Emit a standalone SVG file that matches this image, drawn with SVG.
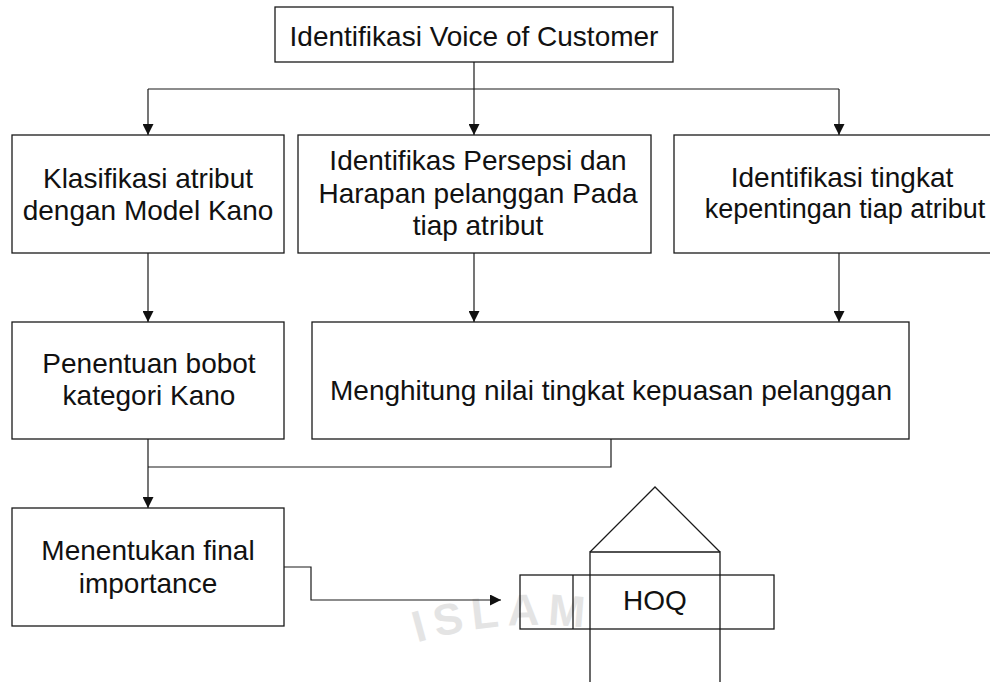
<svg xmlns="http://www.w3.org/2000/svg" width="990" height="682" viewBox="0 0 990 682">
<style>
.box{fill:none;stroke:#1a1a1a;stroke-width:1.3}
.ln{fill:none;stroke:#1a1a1a;stroke-width:1.2}
.t{font-family:"Liberation Sans",Arial,sans-serif;font-size:28px;fill:#111;text-anchor:middle}
.wm{font-family:"Liberation Sans",Arial,sans-serif;font-size:44px;font-weight:bold;fill:#e4e4e4}
</style>
<defs>
<marker id="arr" markerUnits="userSpaceOnUse" markerWidth="11" markerHeight="11" refX="11" refY="5.5" orient="auto">
<path d="M0,0 L11,5.5 L0,11 z" fill="#111"/>
</marker>
<path id="wmArc" d="M395,650 A420,420 0 0 1 615,632"/>
</defs>
<rect width="990" height="682" fill="#fff"/>
<g id="watermark">
<text class="wm" letter-spacing="8"><textPath href="#wmArc" startOffset="50%" text-anchor="middle">ISLAM</textPath></text>
</g>
<g id="connectors">
<path class="ln" d="M474,62 V89"/>
<path class="ln" d="M148,89 H839"/>
<path class="ln" d="M148,89 V135" marker-end="url(#arr)"/>
<path class="ln" d="M474,89 V135" marker-end="url(#arr)"/>
<path class="ln" d="M839,89 V135" marker-end="url(#arr)"/>
<path class="ln" d="M148,253 V322" marker-end="url(#arr)"/>
<path class="ln" d="M474,253 V322" marker-end="url(#arr)"/>
<path class="ln" d="M839,253 V322" marker-end="url(#arr)"/>
<path class="ln" d="M611,439 V467 H148"/>
<path class="ln" d="M148,439 V508" marker-end="url(#arr)"/>
<path class="ln" d="M284,567 H311 V600 H501" marker-end="url(#arr)"/>
</g>
<g id="n-voc">
<rect class="box" x="275" y="7" width="398" height="55"/>
<text class="t" x="474" y="46">Identifikasi Voice of Customer</text>
</g>
<g id="n-kano">
<rect class="box" x="12" y="135" width="272" height="118"/>
<text class="t" x="148" y="188">Klasifikasi atribut</text>
<text class="t" x="148" y="220">dengan Model Kano</text>
</g>
<g id="n-persepsi">
<rect class="box" x="298" y="135" width="353" height="118"/>
<text class="t" x="478" y="170">Identifikas Persepsi dan</text>
<text class="t" x="478" y="203">Harapan pelanggan Pada</text>
<text class="t" x="478" y="235">tiap atribut</text>
</g>
<g id="n-kepentingan">
<rect class="box" x="674" y="135" width="336" height="118"/>
<text class="t" x="842" y="187">Identifikasi tingkat</text>
<text class="t" x="845" y="218" style="font-size:27px">kepentingan tiap atribut</text>
</g>
<g id="n-bobot">
<rect class="box" x="12" y="322" width="272" height="117"/>
<text class="t" x="149" y="373">Penentuan bobot</text>
<text class="t" x="149" y="405">kategori Kano</text>
</g>
<g id="n-kepuasan">
<rect class="box" x="312" y="322" width="597" height="117"/>
<text class="t" x="611" y="400">Menghitung nilai tingkat kepuasan pelanggan</text>
</g>
<g id="n-final">
<rect class="box" x="12" y="508" width="272" height="118"/>
<text class="t" x="148" y="560">Menentukan final</text>
<text class="t" x="148" y="593">importance</text>
</g>
<g id="n-hoq">
<path class="box" d="M590,552 L655,487 L720,552"/>
<path class="box" d="M590,690 V552 H720 V690"/>
<rect class="box" x="520" y="575" width="254" height="54"/>
<path class="box" d="M573,575 V629"/>
<text class="t" x="655" y="610">HOQ</text>
</g>
</svg>
